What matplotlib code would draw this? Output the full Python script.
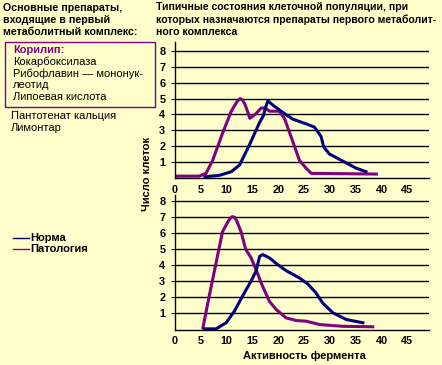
import matplotlib.pyplot as plt

plt.rcParams['font.family'] = ['Liberation Sans', 'DejaVu Sans']

# верхний график
top_norm_x = [5.8, 8.6, 10.9, 12.5, 14.4, 16.4, 17.1, 17.6, 18.0, 18.9, 21.2, 22.8, 25.4, 27.0, 28.3, 28.8, 29.9, 32.5, 35.1, 37.0]
top_norm_y = [0.06, 0.15, 0.38, 0.8, 2.06, 3.5, 3.9, 4.5, 4.85, 4.6, 4.05, 3.7, 3.4, 3.2, 2.6, 1.95, 1.5, 1.05, 0.6, 0.38]
top_pat_x = [0, 4.7, 6.0, 7.3, 9.2, 10.9, 12.0, 12.6, 13.1, 13.6, 14.5, 15.7, 16.7, 17.5, 18.3, 20.2, 21.2, 22.8, 24.1, 25.4, 26.4, 28.0, 39.0]
top_pat_y = [0.1, 0.1, 0.27, 1.1, 2.8, 4.2, 4.8, 5.0, 4.9, 4.6, 3.75, 4.05, 4.4, 4.4, 4.2, 4.2, 3.75, 2.3, 1.1, 0.6, 0.27, 0.27, 0.23]

# нижний график
bot_norm_x = [5.7, 7.95, 9.9, 11.5, 13.1, 14.7, 15.7, 16.4, 17.0, 18.3, 19.9, 21.5, 24.1, 25.7, 27.3, 28.6, 30.6, 33.2, 36.4]
bot_norm_y = [0.04, 0.04, 0.42, 1.14, 2.1, 3.0, 3.65, 4.57, 4.68, 4.47, 4.05, 3.68, 3.22, 2.85, 2.29, 1.66, 1.04, 0.62, 0.42]
bot_pat_x = [5.4, 6.7, 8.3, 9.2, 10.2, 10.7, 11.1, 11.6, 12.0, 12.8, 13.7, 14.7, 15.7, 16.7, 18.3, 19.6, 21.5, 23.5, 25.4, 28.0, 32.5, 38.3]
bot_pat_y = [0.1, 2.2, 4.7, 6.1, 6.7, 6.95, 7.05, 7.0, 6.75, 6.1, 5.0, 4.5, 3.75, 2.9, 1.75, 1.25, 0.73, 0.56, 0.52, 0.31, 0.2, 0.17]

xticks = [0, 5, 10, 15, 20, 25, 30, 35, 40, 45]
yticks = [1, 2, 3, 4, 5, 6, 7, 8]

bg = '#FFFFCC'
navy = '#000080'
purple = '#800080'
W, H = 442, 365

fig = plt.figure(figsize=(4.42, 3.65), dpi=100, facecolor=bg)


def px(x, y):
    return x / W, 1 - y / H


def setup(ax, ytop):
    ax.set_facecolor(bg)
    ax.set_xlim(0, 49.2)
    ax.set_ylim(0, ytop)
    ax.set_xticks(xticks)
    ax.set_yticks(yticks)
    ax.spines['top'].set_visible(False)
    ax.spines['right'].set_visible(False)
    for s in ('left', 'bottom'):
        ax.spines[s].set_linewidth(1.0)
    ax.grid(axis='y', color='black', linewidth=1.0)
    ax.set_axisbelow(True)
    ax.tick_params(axis='y', length=3, width=0.8, pad=4, direction='out')
    ax.tick_params(axis='x', length=0, pad=5)
    for lab in ax.get_xticklabels() + ax.get_yticklabels():
        lab.set_fontweight('bold')
        lab.set_fontsize(7.8)


ax1 = fig.add_axes([175 / W, 1 - 177.7 / H, 254 / W, (177.7 - 42) / H])
setup(ax1, 8.57)
ax1.plot(top_pat_x, top_pat_y, color=purple, lw=2.2, solid_joinstyle='round')
ax1.plot(top_norm_x, top_norm_y, color=navy, lw=2.2, solid_joinstyle='round')

ax2 = fig.add_axes([175 / W, 1 - 329.5 / H, 254 / W, (329.5 - 195) / H])
setup(ax2, 8.4)
ax2.plot(bot_pat_x, bot_pat_y, color=purple, lw=2.2, solid_joinstyle='round')
ax2.plot(bot_norm_x, bot_norm_y, color=navy, lw=2.2, solid_joinstyle='round')

# заголовки
left_title = ['Основные препараты,', 'входящие в первый', 'метаболитный комплекс:']
for i, t in enumerate(left_title):
    fig.text(*px(3, 8.3 + i * 12), t, fontsize=7.65, fontweight='bold', va='center')
right_title = ['Типичные состояния клеточной популяции, при',
               'которых назначаются препараты первого метаболит-',
               'ного комплекса']
for i, t in enumerate(right_title):
    fig.text(*px(156, 7 + i * 12.3), t, fontsize=7.55, fontweight='bold', va='center')

box = plt.Rectangle(px(5, 107), 150 / W, 65 / H, transform=fig.transFigure,
                    fill=False, edgecolor=purple, linewidth=1.0)
fig.add_artist(box)
fig.text(*px(13, 50), 'Корилип:', fontsize=8, fontweight='bold', color=purple, va='center')
box_lines = ['Кокарбоксилаза', 'Рибофлавин — мононук-', 'леотид', 'Липоевая кислота']
for i, t in enumerate(box_lines):
    fig.text(*px(13, 61.7 + i * 11.8), t, fontsize=8, va='center')
fig.text(*px(11, 115.7), 'Пантотенат кальция', fontsize=8, va='center')
fig.text(*px(11, 128), 'Лимонтар', fontsize=8, va='center')

fig.text(*px(146.5, 174), 'Число клеток', fontsize=8, fontweight='bold',
         rotation=90, ha='center', va='center')
fig.text(*px(304.5, 356), 'Активность фермента', fontsize=8, fontweight='bold',
         ha='center', va='center')

# легенда
for yy, col, name in [(238.3, navy, 'Норма'), (249, purple, 'Патология')]:
    fig.add_artist(plt.Line2D([13 / W, 29 / W], [1 - yy / H] * 2, color=col,
                              linewidth=1.0, transform=fig.transFigure))
    fig.text(*px(30, yy), name, fontsize=8, fontweight='bold', va='center')

fig.savefig('out.png', dpi=100, facecolor=bg)
